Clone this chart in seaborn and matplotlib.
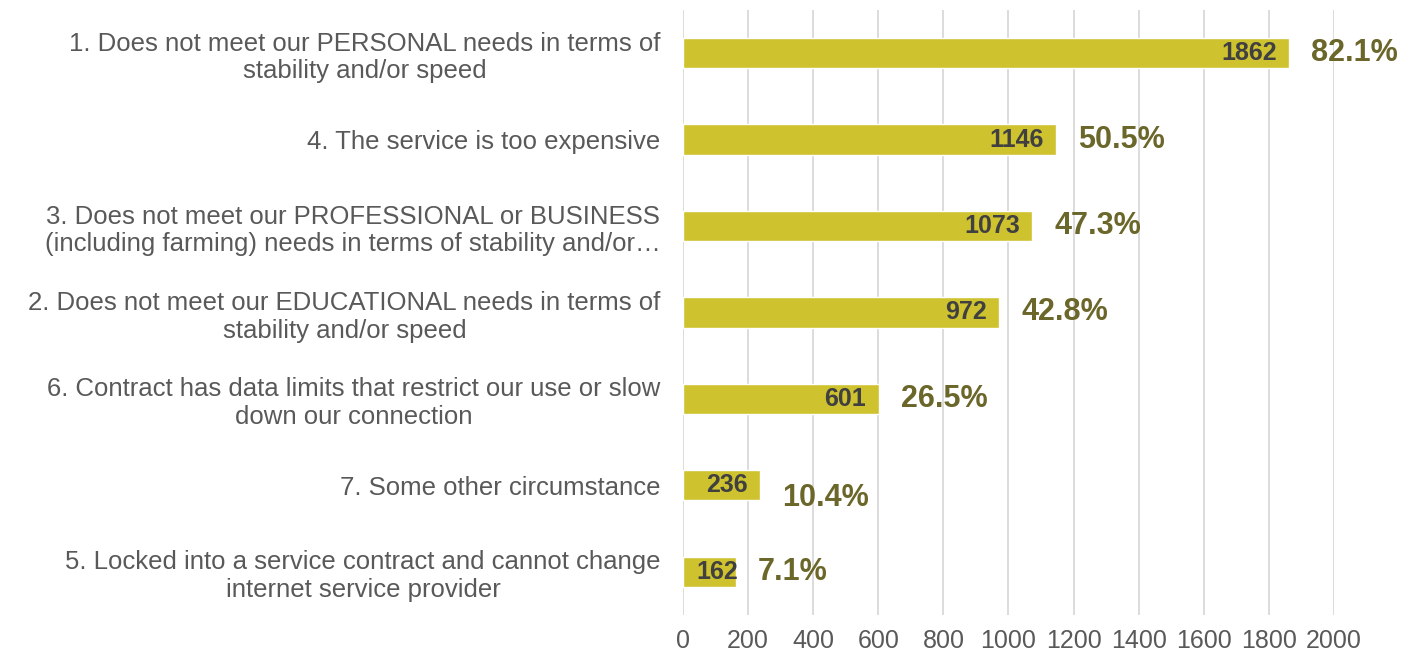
import matplotlib
matplotlib.use("Agg")
import matplotlib.pyplot as plt
import seaborn as sns
import pandas as pd

categories = [
    "1. Does not meet our PERSONAL needs in terms of\nstability and/or speed",
    "4. The service is too expensive",
    "3. Does not meet our PROFESSIONAL or BUSINESS\n(including farming) needs in terms of stability and/or…",
    "2. Does not meet our EDUCATIONAL needs in terms of\nstability and/or speed",
    "6. Contract has data limits that restrict our use or slow\ndown our connection",
    "7. Some other circumstance",
    "5. Locked into a service contract and cannot change\ninternet service provider",
]
counts = [1862, 1146, 1073, 972, 601, 236, 162]
percents = [82.1, 50.5, 47.3, 42.8, 26.5, 10.4, 7.1]
x_ticks = [0, 200, 400, 600, 800, 1000, 1200, 1400, 1600, 1800, 2000]

BAR = "#CFC22F"
PCT = "#6B6629"
CNT = "#404040"
TXT = "#595959"

sns.set_theme(style="white")
plt.rcParams["font.family"] = ["Liberation Sans", "DejaVu Sans"]

df = pd.DataFrame({"reason": categories, "count": counts, "pct": percents})

fig = plt.figure(figsize=(14.09, 6.63), dpi=100)
ax = fig.add_axes([0.4847, 0.0724, 0.4621, 0.9126])

sns.barplot(data=df, y="reason", x="count", orient="h", color=BAR,
            width=0.35, saturation=1, ax=ax)

ax.set_xlim(0, 2000)
ax.set_ylim(6.5, -0.5)
ax.set_xticks(x_ticks)
ax.set_xticklabels([str(t) for t in x_ticks], fontsize=18, color=TXT)
ax.tick_params(axis="x", length=0, pad=10)
ax.tick_params(axis="y", length=0, pad=16)
for lbl in ax.get_yticklabels():
    lbl.set_fontsize(18.5)
    lbl.set_color(TXT)
    lbl.set_multialignment("center")
ax.set_xlabel("")
ax.set_ylabel("")
ax.grid(axis="x", color="#D9D9D9", linewidth=1.3)
ax.set_axisbelow(True)
for s in ax.spines.values():
    s.set_visible(False)

for i, (c, p) in enumerate(zip(counts, percents)):
    if c < 200:
        # too short for an inside-end label: start it from the bar base
        ax.annotate(f"{c}", xy=(0, i), xytext=(10, 0), textcoords="offset points",
                    ha="left", va="center", fontsize=18, fontweight="bold", color=CNT)
    else:
        ax.annotate(f"{c}", xy=(c, i), xytext=(-9, 0), textcoords="offset points",
                    ha="right", va="center", fontsize=18, fontweight="bold", color=CNT)
    dy = -9 if c == 236 else 0
    ax.annotate(f"{p:.1f}%", xy=(c, i), xytext=(16, dy), textcoords="offset points",
                ha="left", va="center", fontsize=22, fontweight="bold", color=PCT)

fig.savefig("out.png", dpi=100)
